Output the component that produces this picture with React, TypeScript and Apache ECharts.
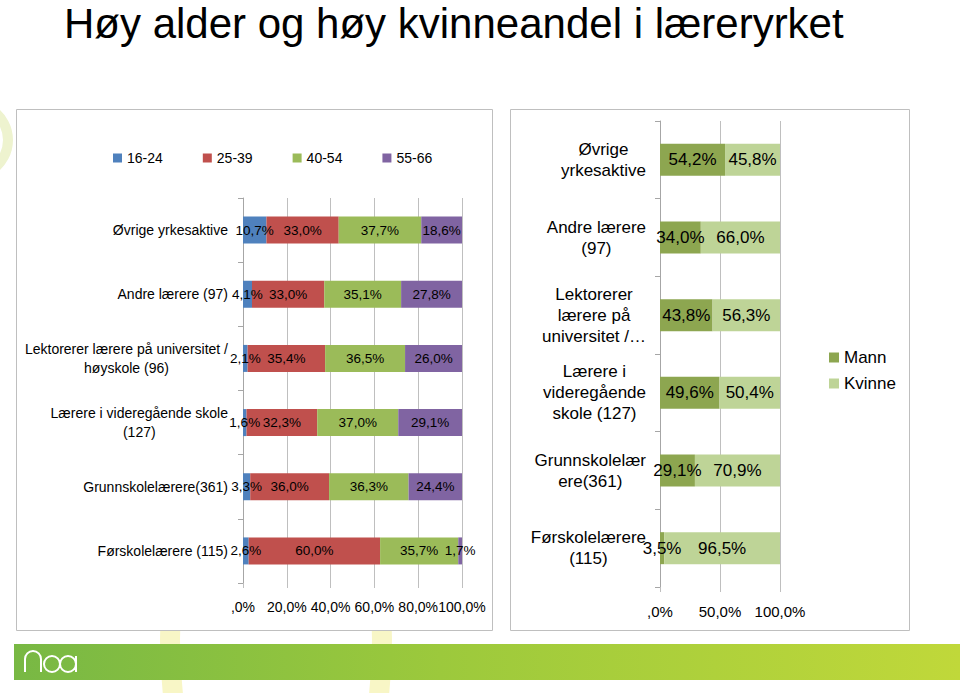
import React, { useEffect, useRef } from "react";
import * as echarts from "echarts";

const leftCategories = [
  "Øvrige yrkesaktive",
  "Andre lærere (97)",
  "Lektorerer lærere på universitet /\nhøyskole (96)",
  "Lærere i videregående skole\n(127)",
  "Grunnskolelærere(361)",
  "Førskolelærere (115)",
];
const ageGroups = ["16-24", "25-39", "40-54", "55-66"];
const age16to24 = [10.7, 4.1, 2.1, 1.6, 3.3, 2.6];
const age25to39 = [33.0, 33.0, 35.4, 32.3, 36.0, 60.0];
const age40to54 = [37.7, 35.1, 36.5, 37.0, 36.3, 35.7];
const age55to66 = [18.6, 27.8, 26.0, 29.1, 24.4, 1.7];
const ageColors = ["#4f81bd", "#c0504d", "#9bbb59", "#8064a2"];

const rightCategories = [
  "Øvrige\nyrkesaktive",
  "Andre lærere\n(97)",
  "Lektorerer\nlærere på\nuniversitet /…",
  "Lærere i\nvideregående\nskole (127)",
  "Grunnskolelær\nere(361)",
  "Førskolelærere\n(115)",
];
const sexGroups = ["Mann", "Kvinne"];
const mann = [54.2, 34.0, 43.8, 49.6, 29.1, 3.5];
const kvinne = [45.8, 66.0, 56.3, 50.4, 70.9, 96.5];
const sexColors = ["#8da650", "#bed497"];

const leftTicks = [0, 20, 40, 60, 80, 100];
const rightTicks = [0, 50, 100];

const FONT = "'Liberation Sans', Arial, sans-serif";

const pct = (v: number) => (v === 0 ? ",0%" : v.toFixed(1).replace(".", ",") + "%");

const centeredLines = (value: string) =>
  value
    .split("\n")
    .map((l) => "{c|" + l + "}")
    .join("\n");

const LOGO_D =
  "M1 22 V9 A8 8 0 0 1 17 9 V22 M36 14 A8 8 0 1 1 20 14 A8 8 0 1 1 36 14 M52 14 A8 8 0 1 1 36 14 A8 8 0 1 1 52 14 M52 6 V22";

let logoRegistered = false;

export default function App() {
  const ref = useRef<HTMLDivElement>(null);

  useEffect(() => {
    document.body.style.margin = "0";
    if (!logoRegistered) {
      echarts.graphic.registerShape("noaLogo", echarts.graphic.extendPath(LOGO_D, {}));
      logoRegistered = true;
    }
    const chart = echarts.init(ref.current!, null, { renderer: "svg" });

    const ageData = [age16to24, age25to39, age40to54, age55to66];
    const sexData = [mann, kvinne];

    const leftSeries = ageGroups.map((name, i) => ({
      name,
      type: "bar",
      stack: "age",
      xAxisIndex: 0,
      yAxisIndex: 0,
      barWidth: 27,
      data: ageData[i],
      itemStyle: { color: ageColors[i] },
      label: {
        show: true,
        position: "inside",
        color: "#000",
        fontSize: 13.5,
        fontFamily: FONT,
        formatter: (p: any) => pct(p.value),
      },
    }));

    const rightSeries = sexGroups.map((name, i) => ({
      name,
      type: "bar",
      stack: "sex",
      xAxisIndex: 1,
      yAxisIndex: 1,
      barWidth: 32,
      data: sexData[i],
      itemStyle: { color: sexColors[i] },
      label: {
        show: true,
        position: "inside",
        color: "#000",
        fontSize: 17,
        fontFamily: FONT,
        formatter: (p: any) => pct(p.value),
      },
    }));

    const gridColor = "#bfbfbf";

    chart.setOption({
      animation: false,
      backgroundColor: "#fff",
      title: {
        text: "Høy alder og høy kvinneandel i læreryrket",
        left: 64,
        top: 0,
        padding: 0,
        textStyle: { fontSize: 42, lineHeight: 46, fontWeight: "normal", color: "#000", fontFamily: FONT },
      },
      legend: [
        {
          data: ageGroups,
          left: 108,
          top: 146,
          icon: "rect",
          itemWidth: 9,
          itemHeight: 9,
          itemGap: 40,
          textStyle: { fontSize: 14, color: "#000", fontFamily: FONT },
        },
        {
          data: sexGroups,
          orient: "vertical",
          left: 824,
          top: 344,
          icon: "rect",
          itemWidth: 10,
          itemHeight: 10,
          itemGap: 9,
          textStyle: { fontSize: 17, color: "#000", fontFamily: FONT },
        },
      ],
      grid: [
        { left: 243, width: 219, top: 198, height: 385 },
        { left: 660, width: 120, top: 121, height: 466 },
      ],
      xAxis: [
        {
          gridIndex: 0,
          type: "value",
          min: leftTicks[0],
          max: leftTicks[leftTicks.length - 1],
          interval: leftTicks[1] - leftTicks[0],
          axisLine: { show: false },
          axisTick: { show: true, length: 5, lineStyle: { color: gridColor } },
          splitLine: { show: true, lineStyle: { color: gridColor } },
          axisLabel: { margin: 17, fontSize: 14, color: "#000", fontFamily: FONT, formatter: pct },
        },
        {
          gridIndex: 1,
          type: "value",
          min: rightTicks[0],
          max: rightTicks[rightTicks.length - 1],
          interval: rightTicks[1] - rightTicks[0],
          axisLine: { show: false },
          axisTick: { show: true, length: 5, lineStyle: { color: gridColor } },
          splitLine: { show: true, lineStyle: { color: gridColor } },
          axisLabel: { margin: 17, fontSize: 15, color: "#000", fontFamily: FONT, formatter: pct },
        },
      ],
      yAxis: [
        {
          gridIndex: 0,
          type: "category",
          inverse: true,
          data: leftCategories,
          axisLine: { show: true, lineStyle: { color: "#a6a6a6" } },
          axisTick: { show: true, length: 5, lineStyle: { color: "#a6a6a6" } },
          axisLabel: {
            margin: 15,
            color: "#000",
            fontSize: 14,
            fontFamily: FONT,
            formatter: centeredLines,
            rich: { c: { align: "center", fontSize: 14, fontFamily: FONT, color: "#000", lineHeight: 19 } },
          },
        },
        {
          gridIndex: 1,
          type: "category",
          inverse: true,
          data: rightCategories,
          axisLine: { show: true, lineStyle: { color: "#a6a6a6" } },
          axisTick: { show: true, length: 5, lineStyle: { color: "#a6a6a6" } },
          axisLabel: {
            margin: 14,
            color: "#000",
            fontSize: 17,
            fontFamily: FONT,
            formatter: centeredLines,
            rich: { c: { align: "center", fontSize: 17, fontFamily: FONT, color: "#000", lineHeight: 21 } },
          },
        },
      ],
      graphic: [
        {
          type: "ellipse",
          z: -30,
          silent: true,
          shape: { cx: 276, cy: 640, rx: 106, ry: 230 },
          style: { fill: "none", stroke: "#f8f6c6", lineWidth: 20 },
        },
        {
          type: "circle",
          z: -30,
          silent: true,
          shape: { cx: -28, cy: 140, r: 36 },
          style: { fill: "none", stroke: "#eef3cf", lineWidth: 10 },
        },
        {
          type: "rect",
          z: -20,
          silent: true,
          shape: { x: 16.5, y: 109.5, width: 476, height: 521 },
          style: { fill: "#fff", stroke: "#bfbfbf", lineWidth: 1 },
        },
        {
          type: "rect",
          z: -20,
          silent: true,
          shape: { x: 510.5, y: 109.5, width: 399, height: 521 },
          style: { fill: "#fff", stroke: "#bfbfbf", lineWidth: 1 },
        },
        {
          type: "rect",
          z: 10,
          silent: true,
          shape: { x: 14, y: 644, width: 946, height: 36 },
          style: {
            fill: new echarts.graphic.LinearGradient(0, 0, 1, 0, [
              { offset: 0, color: "#78b844" },
              { offset: 0.45, color: "#9cc93c" },
              { offset: 1, color: "#c0d83a" },
            ]),
          },
        },
        {
          type: "noaLogo",
          z: 11,
          silent: true,
          x: 24,
          y: 650,
          style: { fill: "none", stroke: "#ffffff", lineWidth: 2 },
        },
      ],
      series: [...leftSeries, ...rightSeries],
    });

    return () => chart.dispose();
  }, []);

  return <div ref={ref} style={{ width: 960, height: 693 }} />;
}
